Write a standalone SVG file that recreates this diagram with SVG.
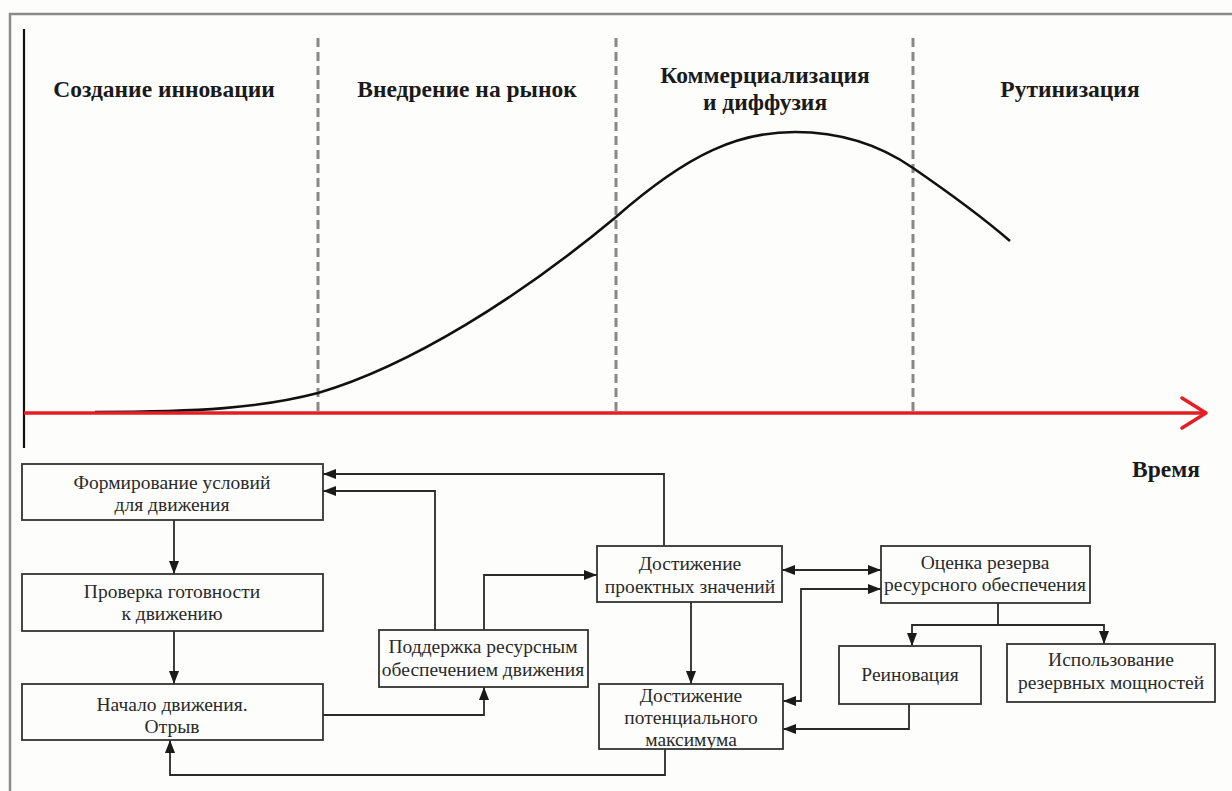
<svg xmlns="http://www.w3.org/2000/svg" width="1232" height="791" viewBox="0 0 1232 791">
<defs>
<style>
.hd{font-family:'Liberation Serif','Times New Roman',serif;font-weight:bold;font-size:23.5px;fill:#1a1a1a;text-anchor:middle}
.bx rect{fill:#fdfdfb;stroke:#333;stroke-width:1.8}
.bx text{font-family:'Liberation Serif','Times New Roman',serif;font-size:19.5px;fill:#2a2a2a;text-anchor:middle}
.cn{fill:none;stroke:#2a2a2a;stroke-width:1.8}
.dash{stroke:#888;stroke-width:3;stroke-dasharray:9 5}
</style>
<marker id="ah" viewBox="0 0 13 10" refX="13" refY="5" markerWidth="13" markerHeight="10" markerUnits="userSpaceOnUse" orient="auto-start-reverse">
<path d="M0,0 L13,5 L0,10 Z" fill="#1a1a1a"/>
</marker>
</defs>
<rect x="0" y="0" width="1232" height="791" fill="#fdfdfb"/>
<path d="M10,791 V14 H1232" fill="none" stroke="#8a8a8a" stroke-width="2.5"/>

<g id="chart">
<line x1="24" y1="29" x2="24" y2="448" stroke="#111" stroke-width="2.2"/>
<line class="dash" x1="318" y1="38" x2="318" y2="413"/>
<line class="dash" x1="616" y1="38" x2="616" y2="413"/>
<line class="dash" x1="913" y1="38" x2="913" y2="413"/>
<path d="M95,412 C200,412 260,408 318,393 C410,366 520,297 616,217 C690,152 740,132 795,132 C840,132 880,145 913,168 C945,190 980,215 1010,241" fill="none" stroke="#111" stroke-width="2.6"/>
<line x1="24" y1="413" x2="1204" y2="413" stroke="#e31e24" stroke-width="3.5"/>
<polyline points="1182,398 1206,413 1182,428" fill="none" stroke="#e31e24" stroke-width="3.5" stroke-linecap="round" stroke-linejoin="round"/>
<text class="hd" x="164" y="97">Создание инновации</text>
<text class="hd" x="467" y="97">Внедрение на рынок</text>
<text class="hd" x="765" y="83">Коммерциализация</text>
<text class="hd" x="765" y="110">и диффузия</text>
<text class="hd" x="1070" y="97">Рутинизация</text>
<text class="hd" x="1166" y="477">Время</text>
</g>

<g id="connectors">
<path class="cn" d="M174,520 V574" marker-end="url(#ah)"/>
<path class="cn" d="M174,631 V684" marker-end="url(#ah)"/>
<path class="cn" d="M664,546 V474 H323" marker-end="url(#ah)"/>
<path class="cn" d="M435,630 V491 H323" marker-end="url(#ah)"/>
<path class="cn" d="M323,715 H484 V687" marker-end="url(#ah)"/>
<path class="cn" d="M484,630 V575 H597" marker-end="url(#ah)"/>
<path class="cn" d="M691,602 V684" marker-end="url(#ah)"/>
<path class="cn" d="M665,749 V775 H170 V740" marker-end="url(#ah)"/>
<path class="cn" d="M782,570 H881" marker-start="url(#ah)" marker-end="url(#ah)"/>
<path class="cn" d="M783,701 H801 V589 H881" marker-start="url(#ah)" marker-end="url(#ah)"/>
<path class="cn" d="M998,603 V625"/>
<path class="cn" d="M998,625 H912 V646" marker-end="url(#ah)"/>
<path class="cn" d="M998,625 H1104 V644" marker-end="url(#ah)"/>
<path class="cn" d="M909,704 V729 H783" marker-end="url(#ah)"/>
</g>

<g id="n1" class="bx"><rect x="22" y="464" width="301" height="56"/><text x="172" y="489">Формирование условий</text><text x="172" y="511">для движения</text></g>
<g id="n2" class="bx"><rect x="22" y="574" width="301" height="57"/><text x="172" y="598">Проверка готовности</text><text x="172" y="620">к движению</text></g>
<g id="n3" class="bx"><rect x="22" y="684" width="301" height="56"/><text x="172" y="711">Начало движения.</text><text x="172" y="733">Отрыв</text></g>
<g id="n4" class="bx"><rect x="379" y="630" width="209" height="57"/><text x="483" y="653">Поддержка ресурсным</text><text x="483" y="676">обеспечением движения</text></g>
<g id="n5" class="bx"><rect x="597" y="546" width="185" height="56"/><text x="690" y="570">Достижение</text><text x="690" y="593">проектных значений</text></g>
<g id="n6" class="bx"><rect x="599" y="684" width="184" height="65"/><text x="691" y="702">Достижение</text><text x="691" y="724">потенциального</text><text x="691" y="746">максимума</text></g>
<g id="n7" class="bx"><rect x="881" y="546" width="209" height="57"/><text x="985" y="569">Оценка резерва</text><text x="985" y="591">ресурсного обеспечения</text></g>
<g id="n8" class="bx"><rect x="839" y="646" width="142" height="58"/><text x="910" y="681">Реиновация</text></g>
<g id="n9" class="bx"><rect x="1007" y="644" width="208" height="58"/><text x="1111" y="666">Использование</text><text x="1111" y="689">резервных мощностей</text></g>
</svg>
